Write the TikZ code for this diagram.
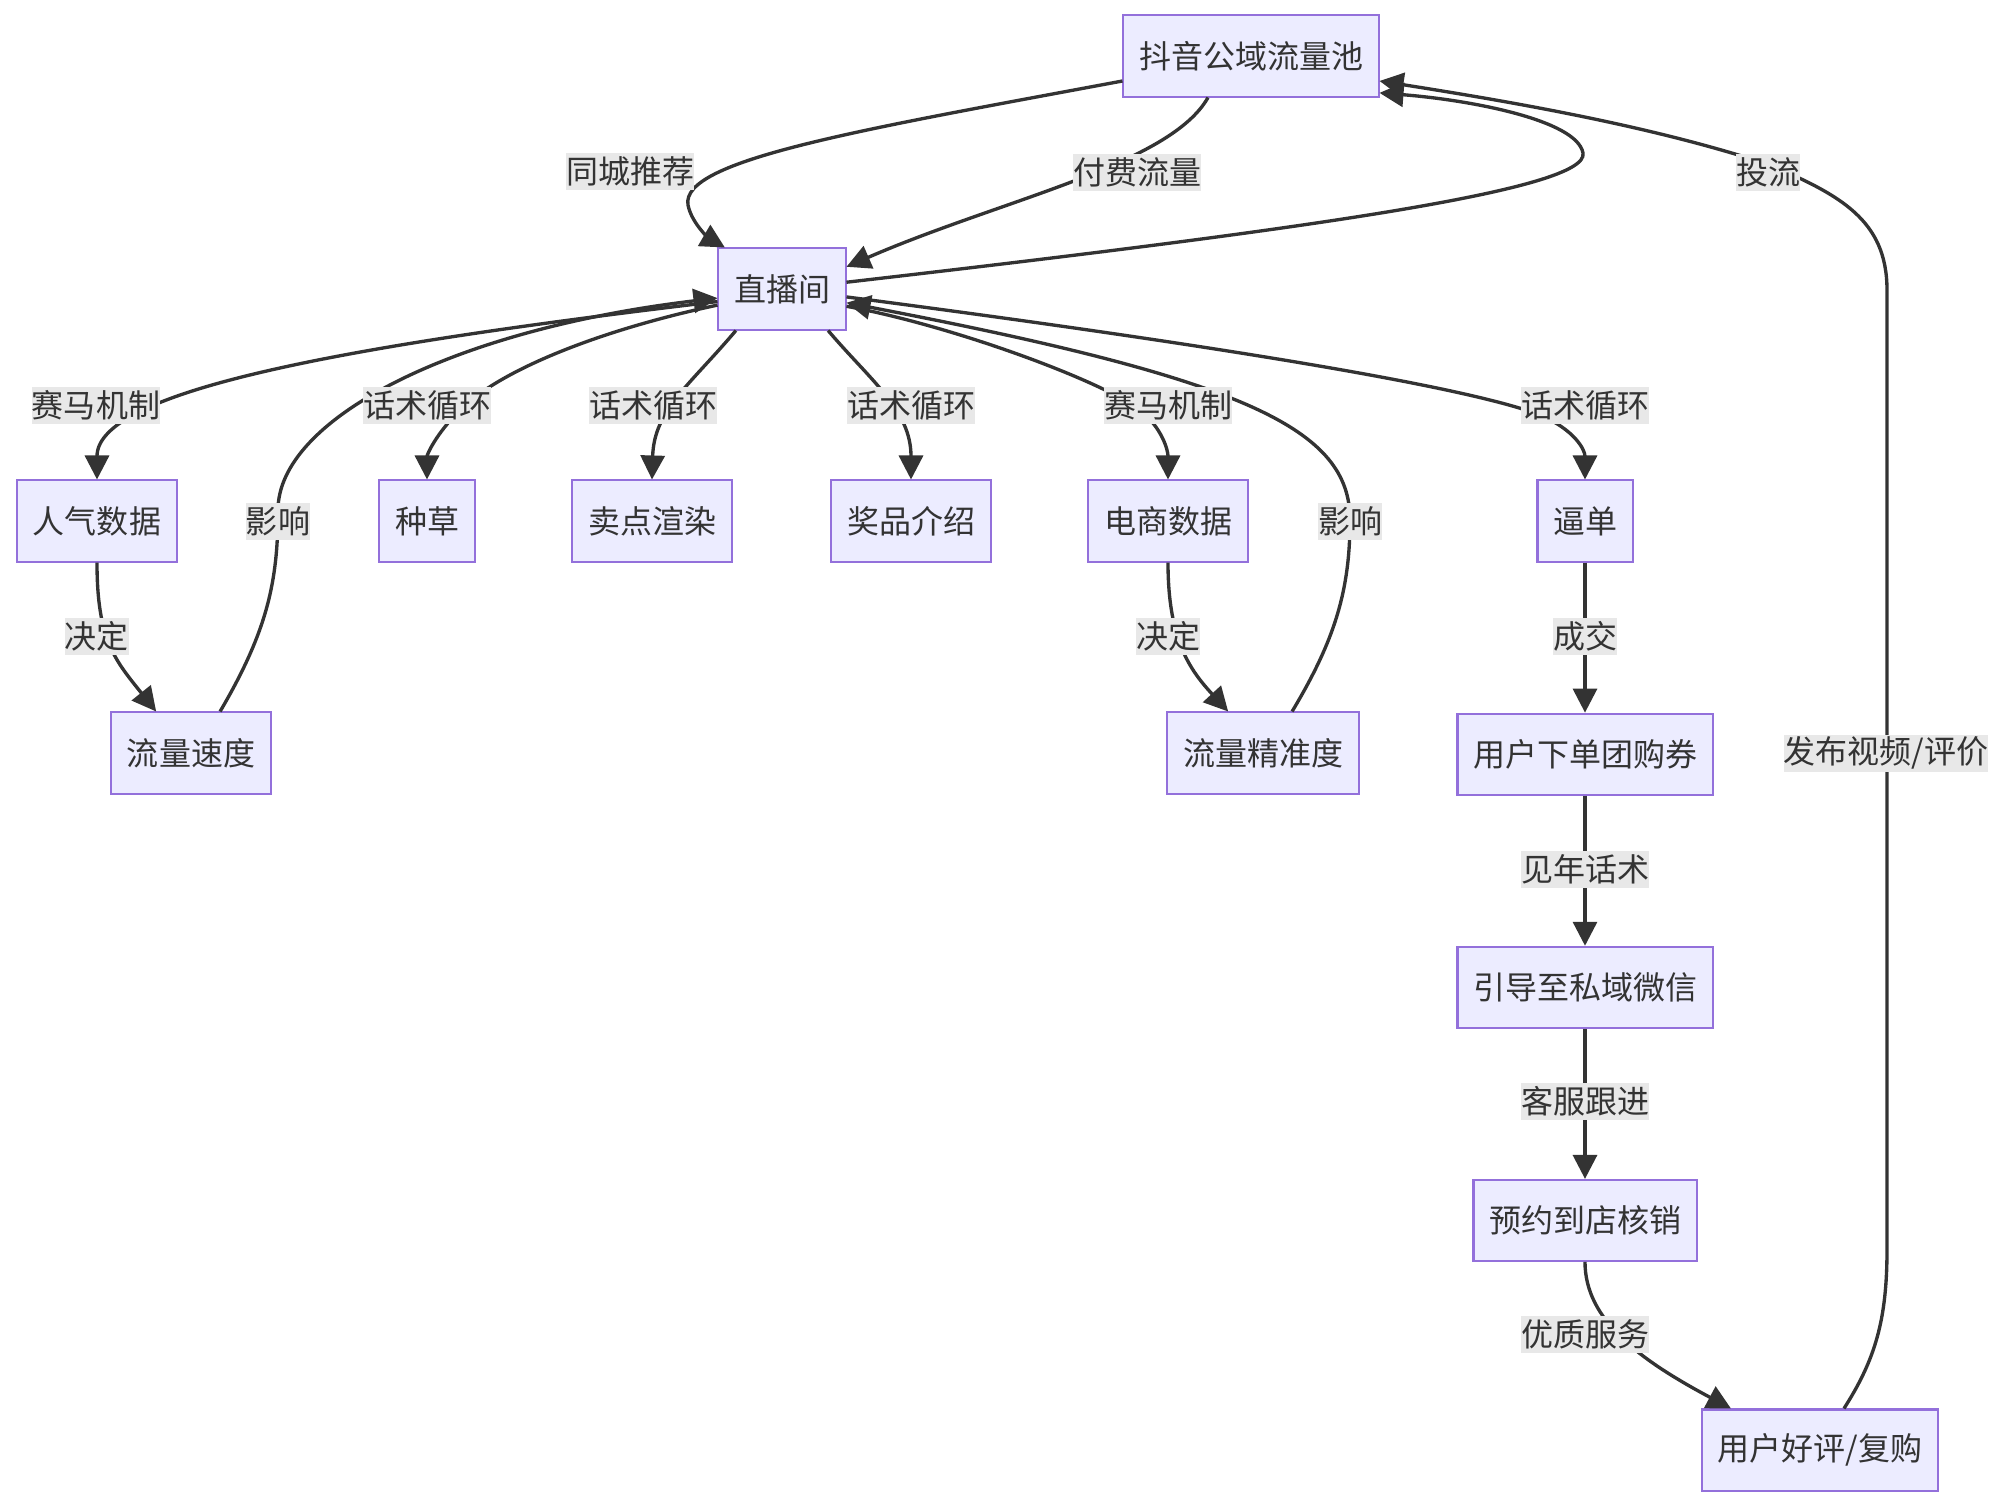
\documentclass[tikz,border=0pt]{standalone}
\usepackage{fontspec}
\newfontfamily\cjk{Noto Sans CJK SC}
\usepackage{tikz}
\usetikzlibrary{arrows.meta,positioning}
\definecolor{boxfill}{HTML}{ECECFF}
\definecolor{boxline}{HTML}{9370DB}
\definecolor{ink}{HTML}{333333}
\definecolor{lblfill}{HTML}{E8E8E8}
\tikzset{
  box/.style={rectangle, draw=boxline, fill=boxfill, line width=0.57pt, minimum height=0.81cm, inner xsep=0.155cm, text=ink, font=\cjk\fontsize{9.1pt}{11pt}\selectfont},
  lbl/.style={rectangle, fill=lblfill, inner sep=0pt, minimum height=0.37cm, text=ink, font=\cjk\fontsize{9.1pt}{11pt}\selectfont},
  arr/.style={-{Triangle[length=2.4mm,width=2.4mm]}, line width=0.95pt, draw=ink}
}

\begin{document}
\begin{tikzpicture}[x=0.01cm, y=-0.01cm, node distance=1.5cm]
\path[fill=white] (0,0) rectangle (2008,1508);

\node[box] (pool) at (1251,56) {抖音公域流量池};
\node[box] (live) at (782,289) {直播间};
\node[box] (renqi) at (97,521) {人气数据};
\node[box] (zhongcao) at (427,521) {种草};
\node[box] (maidian) at (652,521) {卖点渲染};
\node[box] (jiangpin) at (911,521) {奖品介绍};
\node[box] (dianshang) at (1168,521) {电商数据};
\node[box] (bidan) at (1585,521) {逼单};
\node[box] (sudu) at (191,753) {流量速度};
\node[box] (jingzhun) at (1263,753) {流量精准度};
\node[box, below=of bidan] (xiadan) {用户下单团购券};
\node[box, below=of xiadan] (yindao) {引导至私域微信};
\node[box, below=of yindao] (yuyue) {预约到店核销};
\node[box] (haoping) at (1820,1450) {用户好评/复购};

% traffic pool <-> live room
\draw[arr] (pool.191) .. controls (860,130) and (680,160) .. (688,205) .. controls (692,225) and (712,240) .. (live.144);
\draw[arr] (pool.224) .. controls (1170,165) and (1000,200) .. (live.19);
\draw[arr] (live.6) .. controls (1300,230) and (1590,190) .. (1583,153) .. controls (1577,120) and (1470,100) .. (pool.344);
\draw[arr] (haoping.60) .. controls (1875,1360) and (1887,1320) .. (1887,1250) -- (1887,290) .. controls (1887,220) and (1840,195) .. (1770,165) .. controls (1650,125) and (1500,100) .. (pool.349);

% live room -> first row
\draw[arr] (live.191) .. controls (350,345) and (97,390) .. (renqi.north);
\draw[arr] (live.194) .. controls (600,330) and (500,370) .. (460,410) .. controls (435,435) and (427,455) .. (zhongcao.north);
\draw[arr] (live.222) .. controls (690,385) and (654,410) .. (maidian.north);
\draw[arr] (live.318) .. controls (870,380) and (911,410) .. (jiangpin.north);
\draw[arr] (live.345) .. controls (950,325) and (1100,380) .. (1140,410) .. controls (1162,428) and (1168,450) .. (dianshang.north);
\draw[arr] (live.353) .. controls (1100,330) and (1450,380) .. (1540,415) .. controls (1575,430) and (1585,450) .. (bidan.north);

% feedback loops
\draw[arr] (renqi.south) .. controls (97,640) and (115,660) .. (sudu.130);
\draw[arr] (sudu.55) .. controls (268,630) and (278,580) .. (278,510) .. controls (278,420) and (450,330) .. (live.188);
\draw[arr] (dianshang.south) .. controls (1168,640) and (1190,670) .. (jingzhun.130);
\draw[arr] (jingzhun.55) .. controls (1335,640) and (1350,590) .. (1350,520) .. controls (1350,430) and (1250,380) .. (live.348);

% order chain
\draw[arr] (bidan) -- (xiadan);
\draw[arr] (xiadan) -- (yindao);
\draw[arr] (yindao) -- (yuyue);
\draw[arr] (yuyue.south) .. controls (1585,1320) and (1640,1360) .. (haoping.155);

\node[lbl] (lTongcheng) at (630,171) {同城推荐};
\node[lbl] (lFufei) at (1137,172) {付费流量};
\node[lbl] (lTouliu) at (1768,172) {投流};
\node[lbl] (lSaima1) at (96,405) {赛马机制};
\node[lbl] (lHuashu1) at (427,405) {话术循环};
\node[lbl] (lHuashu2) at (653,405) {话术循环};
\node[lbl] (lHuashu3) at (911,405) {话术循环};
\node[lbl] (lSaima2) at (1168,405) {赛马机制};
\node[lbl] (lHuashu4) at (1585,405) {话术循环};
\node[lbl] (lYingxiang1) at (278,521) {影响};
\node[lbl] (lYingxiang2) at (1350,521) {影响};
\node[lbl] (lJueding1) at (97,636) {决定};
\node[lbl] (lJueding2) at (1168,636) {决定};
\node[lbl] (lChengjiao) at (1585,636) {成交};
\node[lbl] (lFabu) at (1886,753) {发布视频/评价};
\node[lbl] (lJiannian) at (1585,869) {见年话术};
\node[lbl] (lKefu) at (1585,1101) {客服跟进};
\node[lbl] (lYouzhi) at (1585,1334) {优质服务};
\end{tikzpicture}
\end{document}
